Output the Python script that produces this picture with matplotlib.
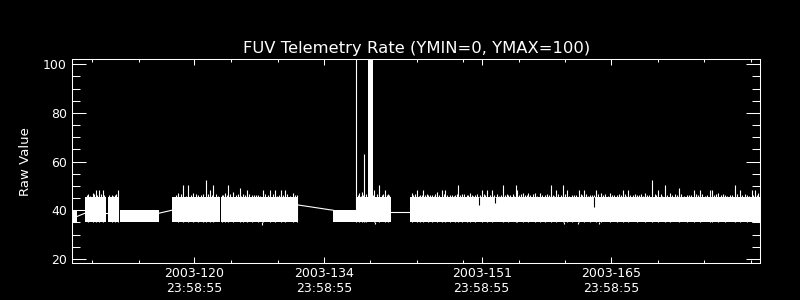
import matplotlib
matplotlib.use('Agg')
import matplotlib.pyplot as plt

# --- data (day of year 2003, fractional) ---
# white blocks: rapid toggling telemetry drawn as a filled band
seg_start = [107.88, 109.21, 111.66, 112.98, 118.56, 123.88, 135.99, 138.52, 139.77, 140.24, 144.27]
seg_end   = [108.31, 111.47, 112.91, 117.19, 123.77, 132.15, 138.44, 139.77, 140.24, 142.18, 182.02]
seg_low   = [35.0, 35.0, 35.0, 35.0, 35.0, 35.0, 35.0, 35.0, 35.0, 35.0, 35.0]
seg_high  = [40.0, 45.5, 45.5, 40.0, 45.5, 45.5, 40.0, 45.5, 110.0, 45.5, 45.5]

# straight connecting lines across data gaps
link_x0 = [108.31, 111.47, 117.19, 132.15, 142.18]
link_y0 = [37.4, 38.8, 38.8, 42.2, 39.4]
link_x1 = [109.21, 111.66, 118.56, 135.99, 144.27]
link_y1 = [38.8, 38.8, 40.0, 40.0, 39.4]

# tall peaks above the band
spike_x = [109.57, 110.04, 110.36, 110.75, 111.18, 112.09, 112.45, 112.80,
           119.27, 119.81, 120.35, 120.89, 121.43, 121.97, 122.26, 122.69, 123.05,
           123.95, 124.31, 124.67, 125.21, 125.93, 126.29, 126.65, 127.19, 127.90,
           128.44, 129.16, 129.70, 130.35, 130.78, 131.61, 132.05,
           138.44, 138.80, 139.09, 139.34, 139.52, 140.42, 140.96, 141.57, 141.93,
           144.45, 145.05, 145.35, 145.70, 146.24, 146.61, 147.15, 147.69, 148.04,
           148.58, 149.12, 149.48, 149.84, 150.38, 150.74, 151.28, 152.00, 152.61,
           153.08, 154.27, 154.87, 155.70, 155.84, 156.49, 157.03, 157.75, 158.29,
           158.83, 159.45, 160.02, 160.74, 161.24, 161.71, 162.53, 163.04, 163.68,
           164.33, 164.84, 165.84, 166.56, 167.21, 167.82, 168.72, 169.62, 170.40,
           171.05, 171.77, 172.31, 173.32, 174.11, 174.90, 175.55, 176.63, 176.81,
           177.52, 178.25, 179.32, 179.86, 180.58, 181.12, 181.48, 181.84]
spike_y = [46.7, 47.2, 48.4, 48.4, 48.4, 46.3, 46.3, 48.4,
           47.0, 50.4, 50.4, 47.0, 46.3, 46.7, 52.4, 48.4, 50.4,
           46.3, 47.0, 50.4, 47.7, 49.0, 46.7, 48.4, 46.3, 46.3,
           48.4, 48.4, 48.4, 48.4, 48.4, 47.0, 46.3,
           110.0, 47.0, 47.5, 63.1, 46.5, 48.4, 50.4, 48.4, 46.7,
           47.0, 48.4, 46.3, 48.4, 46.3, 46.3, 47.7, 48.4, 48.4,
           46.3, 46.3, 50.4, 46.7, 46.3, 47.0, 46.3, 48.4, 48.4,
           48.4, 50.4, 46.3, 50.4, 48.4, 47.0, 47.0, 47.0, 47.0,
           46.3, 50.4, 48.4, 50.4, 48.4, 46.3, 48.4, 48.4, 46.3,
           48.4, 47.0, 47.0, 46.3, 48.4, 48.4, 46.3, 47.0, 52.5,
           48.4, 50.4, 47.0, 49.0, 46.3, 48.4, 48.4, 48.4, 48.4,
           47.0, 46.3, 50.4, 48.4, 46.3, 48.4, 48.4, 47.0]

# small ripples on the top edge of the band
ripple_x = [109.40, 109.80, 110.20, 110.55, 110.90, 111.30, 111.80, 112.25, 112.60,
            119.05, 119.55, 120.10, 120.60, 121.15, 121.70, 122.45, 122.90, 123.30, 123.60,
            124.10, 124.50, 124.90, 125.45, 125.70, 126.05, 126.45, 126.90, 127.45, 127.65,
            128.10, 128.65, 128.90, 129.45, 129.95, 130.10, 130.55, 131.05, 131.35, 131.85,
            138.65, 138.95, 139.20, 140.30, 140.70, 141.20, 141.40, 141.75, 142.05,
            144.60, 144.85, 145.20, 145.55, 145.90, 146.05, 146.40, 146.85, 147.00, 147.40,
            147.90, 148.30, 148.80, 149.00, 149.30, 149.65, 150.10, 150.55, 150.95, 151.10,
            151.50, 151.80, 152.25, 152.40, 152.85, 153.30, 153.60, 153.90, 154.10, 154.50,
            154.70, 155.10, 155.35, 155.50, 156.05, 156.25, 156.70, 156.85, 157.25, 157.50,
            158.00, 158.55, 159.05, 159.25, 159.70, 159.85, 160.25, 160.50, 161.00, 161.45,
            161.95, 162.20, 162.75, 162.85, 163.30, 163.50, 163.90, 164.10, 164.55, 165.10,
            165.35, 165.60, 166.10, 166.30, 166.80, 167.00, 167.45, 167.60, 168.05, 168.30,
            168.50, 168.95, 169.20, 169.40, 169.85, 170.10, 170.65, 170.85, 171.30, 171.50,
            172.00, 172.55, 172.80, 173.05, 173.55, 173.85, 174.35, 174.60, 175.15, 175.35,
            175.80, 176.05, 176.35, 177.05, 177.25, 177.80, 178.00, 178.50, 178.75, 179.00,
            179.55, 180.10, 180.35, 180.85, 181.30, 181.65]
ripple_y = [46.3, 46.0, 46.5, 46.2, 46.6, 46.3, 46.3, 46.0, 46.5,
            46.2, 46.5, 46.0, 46.4, 46.6, 46.1, 46.5, 46.2, 46.6, 46.0,
            46.4, 46.1, 46.6, 46.2, 46.5, 46.0, 46.3, 46.6, 46.1, 46.4,
            46.0, 46.5, 46.2, 46.6, 46.0, 46.4, 46.2, 46.5, 46.0, 46.3,
            46.3, 46.0, 46.4, 46.2, 46.5, 46.1, 46.6, 46.2, 46.4,
            46.2, 46.5, 46.0, 46.4, 46.1, 46.6, 46.3, 46.0, 46.5, 46.2,
            46.6, 46.1, 46.4, 46.0, 46.5, 46.2, 46.6, 46.1, 46.4, 46.0,
            46.5, 46.2, 46.6, 46.1, 46.4, 46.2, 46.5, 46.0, 46.4, 46.2,
            46.6, 46.1, 46.5, 46.0, 46.3, 46.6, 46.1, 46.4, 46.2, 46.5,
            46.0, 46.4, 46.6, 46.1, 46.3, 46.0, 46.5, 46.2, 46.6, 46.0,
            46.4, 46.1, 46.5, 46.2, 46.6, 46.0, 46.4, 46.1, 46.5, 46.2,
            46.6, 46.0, 46.4, 46.1, 46.5, 46.2, 46.6, 46.0, 46.4, 46.1,
            46.5, 46.2, 46.6, 46.0, 46.4, 46.1, 46.5, 46.2, 46.6, 46.0,
            46.4, 46.1, 46.5, 46.2, 46.6, 46.0, 46.4, 46.1, 46.5, 46.2,
            46.6, 46.0, 46.4, 46.1, 46.5, 46.2, 46.6, 46.0, 46.4, 46.1,
            46.5, 46.2, 46.6, 46.0, 46.4, 46.1]

# dips below the band
dip_x = [128.27, 140.49, 160.91, 162.36, 164.69]
dip_y = [34.0, 34.5, 34.3, 34.3, 34.3]

# short drops of the band's upper edge
notch_x = [151.71, 153.44, 164.15]
notch_y = [42.2, 43.0, 41.5]

# axis ticks
major_ticks = [120.999, 134.999, 151.999, 165.999]
major_labels = ['2003-120\n23:58:55', '2003-134\n23:58:55',
                '2003-151\n23:58:55', '2003-165\n23:58:55']
minor_ticks = [110, 115, 125, 130, 140, 145, 150, 156, 161, 171, 176, 181]

fig = plt.figure(figsize=(8, 3), dpi=100, facecolor='black')
ax = fig.add_axes([0.0904, 0.1223, 0.8596, 0.68])
ax.set_facecolor('black')

for x0, x1, lo, hi in zip(seg_start, seg_end, seg_low, seg_high):
    ax.fill_between([x0, x1], lo, hi, color='white', lw=0)
for x0, y0, x1, y1 in zip(link_x0, link_y0, link_x1, link_y1):
    ax.plot([x0, x1], [y0, y1], color='white', lw=0.8)
ax.vlines(ripple_x, 40, ripple_y, color='white', lw=0.8)
ax.vlines(spike_x, 35, spike_y, color='white', lw=0.8)
ax.vlines(dip_x, dip_y, 35, color='white', lw=0.8)
ax.vlines(notch_x, notch_y, 45.6, color='black', lw=0.8)

ax.set_xlim(107.84, 182.02)
ax.set_ylim(18.2, 102.05)

ax.set_xticks(major_ticks)
ax.set_xticklabels(major_labels)
ax.set_xticks(minor_ticks, minor=True)
ax.set_yticks([20, 40, 60, 80, 100])
ax.set_yticks(range(20, 101, 5), minor=True)

ax.tick_params(axis='x', which='major', direction='in', length=4.3, width=0.75,
               top=True, colors='white', labelsize=9, pad=3)
ax.tick_params(axis='x', which='minor', direction='in', length=2.2, width=0.75,
               top=True, colors='white')
ax.tick_params(axis='y', which='major', direction='in', length=10.3, width=0.75,
               right=True, colors='white', labelsize=9, pad=4)
ax.tick_params(axis='y', which='minor', direction='in', length=5.5, width=0.75,
               right=True, colors='white')
for sp in ax.spines.values():
    sp.set_color('white')
    sp.set_linewidth(0.75)

ax.set_title('FUV Telemetry Rate (YMIN=0, YMAX=100)', color='white', fontsize=11.8, pad=4.5)
ax.set_ylabel('Raw Value', color='white', fontsize=9.5)
ax.yaxis.set_label_coords(-0.058, 0.5)

fig.savefig('out.png', facecolor='black')
